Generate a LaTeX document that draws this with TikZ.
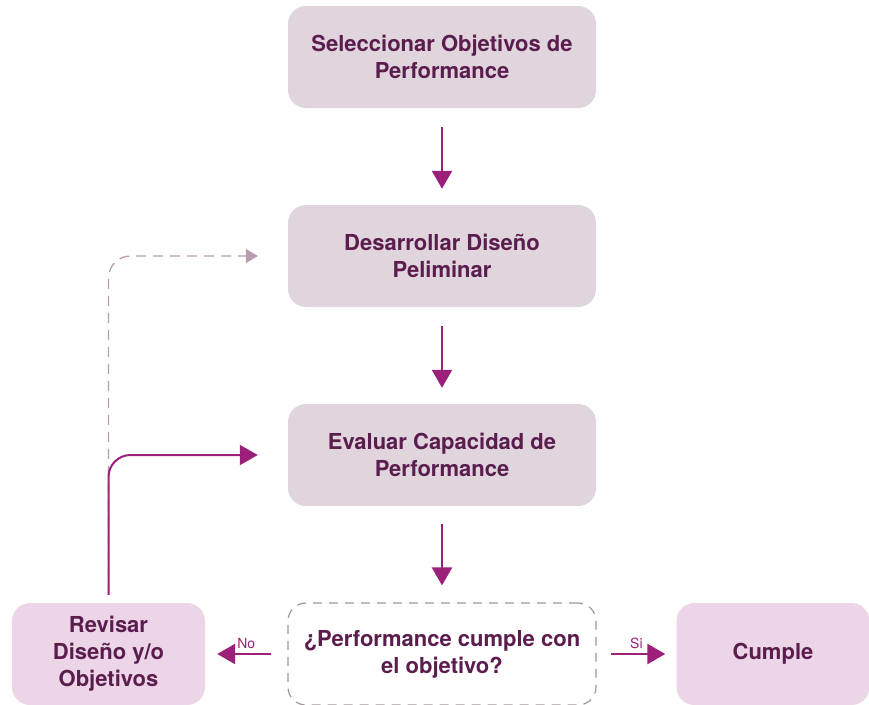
\documentclass[tikz,border=0pt]{standalone}
\usepackage{fontspec}
\setmainfont{TeX Gyre Heros}
\usepackage{xcolor}
\definecolor{cText}{HTML}{5B1D4E}
\definecolor{cArrow}{HTML}{9C2079}
\definecolor{cFill}{HTML}{E0D4DD}
\definecolor{cSide}{HTML}{ECD5E7}
\definecolor{cDash}{HTML}{B89BB2}
\definecolor{cFrame}{HTML}{A3949F}
\usetikzlibrary{positioning,arrows.meta}
\tikzset{
  node-box/.style={fill=cFill,rounded corners=18pt,text=cText,
    minimum height=102pt,minimum width=308pt,align=center,
    font=\fontsize{22}{27}\selectfont\bfseries},
  node-side/.style={node-box,fill=cSide,minimum width=193pt},
  node-check/.style={node-box,fill=white,draw=cFrame,line width=1.2pt,
    dash pattern=on 9pt off 7pt},
  arrow/.style={-{Triangle[length=18pt,width=20pt]},line width=2.4pt,draw=cArrow},
  arrow-back/.style={-{Triangle[length=12pt,width=14pt]},line width=1.3pt,
    draw=cDash,dash pattern=on 10pt off 7pt,rounded corners=22pt},
  edge-label/.style={text=cArrow,font=\fontsize{14}{16}\selectfont,above=1pt},
}

\begin{document}
\begin{tikzpicture}[x=1pt,y=-1pt]
  \useasboundingbox (0,0) rectangle (869,704);
  \clip (0,0) rectangle (869,704);
  \node[node-box] (sel) at (442,57) {Seleccionar Objetivos de\\Performance};
  \node[node-box] (dev) at (442,256) {Desarrollar Diseño\\Peliminar};
  \node[node-box] (eval) at (442,455) {Evaluar Capacidad de\\Performance};
  \node[node-check] (check) at (442,654) {¿Performance cumple con\\el objetivo?};
  \node[node-side] (rev) at (108.5,654) {Revisar\\Diseño y/o\\Objetivos};
  \node[node-side] (ok) at (773,654) {Cumple};
  % flujo principal
  \draw[arrow,shorten <=19pt,shorten >=16pt] (sel) -- (dev);
  \draw[arrow,shorten <=19pt,shorten >=16pt] (dev) -- (eval);
  \draw[arrow,shorten <=18pt,shorten >=17pt] (eval) -- (check);
  \draw[arrow,shorten <=16pt,shorten >=12pt] (check) -- node[edge-label]{No} (rev);
  \draw[arrow,shorten <=14pt,shorten >=11pt] (check) -- node[edge-label]{Si} (ok);
  % retornos
  \draw[arrow-back,shorten <=8pt,shorten >=30pt] (rev.north) |- (dev.west);
  \draw[arrow,line width=2pt,rounded corners=22pt,shorten <=8pt,shorten >=30pt]
    (rev.north) |- (eval.west);
\end{tikzpicture}
\end{document}
